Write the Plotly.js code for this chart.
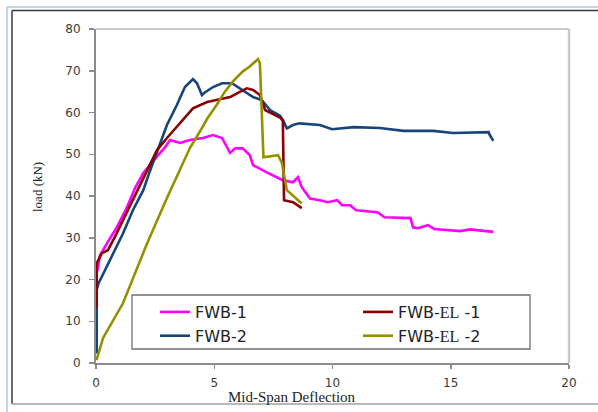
<!DOCTYPE html>
<html>
<head>
<meta charset="utf-8">
<script src="https://cdn.plot.ly/plotly-3.0.1.min.js"></script>
<style>
html,body{margin:0;padding:0;background:#fff;}
#chart{width:598px;height:412px;}
</style>
</head>
<body>
<div id="chart"></div>
<script>
// Series names
const seriesNames = ['FWB-1', 'FWB-EL -1', 'FWB-2', 'FWB-EL -2'];

// FWB-1 (magenta)
const fwb1X = [0.05, 0.17, 0.5, 0.89, 1.31, 1.65, 2.0, 2.28, 2.63, 2.92, 3.13, 3.55, 3.97, 4.52, 4.95, 5.33, 5.54, 5.67, 5.88, 6.2, 6.5, 6.64, 7.2, 7.9, 8.33, 8.54, 8.7, 9.05, 9.47, 9.8, 10.2, 10.4, 10.74, 11.0, 11.9, 12.2, 13.3, 13.4, 13.6, 14.04, 14.3, 15.4, 15.8, 16.8];
const fwb1Y = [22, 25.8, 29, 32.6, 37.3, 41.9, 45.5, 47.5, 49.8, 51.7, 53.4, 52.7, 53.4, 53.9, 54.6, 53.9, 51.7, 50.3, 51.4, 51.4, 49.8, 47.4, 45.7, 43.8, 43.3, 44.5, 42.1, 39.4, 39, 38.5, 39, 37.8, 37.8, 36.6, 36.1, 34.9, 34.7, 32.5, 32.3, 33, 32.1, 31.6, 32, 31.4];

// FWB-EL-1 (dark red)
const fwbEl1X = [0.03, 0.03, 0.25, 0.5, 0.8, 1.14, 1.56, 2.07, 2.58, 3.0, 3.55, 4.1, 4.7, 5.37, 5.67, 5.96, 6.38, 6.64, 6.93, 7.15, 7.5, 7.8, 7.9, 7.95, 8.33, 8.7];
const fwbEl1Y = [13.3, 23.9, 26.3, 27, 30.2, 34.2, 39, 45.4, 51, 53.9, 57.4, 61, 62.5, 63.4, 63.7, 64.6, 65.8, 65.4, 64.2, 60.6, 59.6, 58.7, 58, 39, 38.5, 37.1];

// FWB-2 (navy)
const fwb2X = [0.03, 0.03, 0.1, 0.38, 0.72, 1.14, 1.56, 2.0, 2.28, 2.58, 3.0, 3.42, 3.76, 4.1, 4.27, 4.48, 4.6, 4.95, 5.33, 5.75, 6.2, 6.64, 7.0, 7.2, 7.36, 7.78, 7.9, 8.07, 8.33, 8.6, 9.47, 9.98, 10.9, 12, 13, 14.25, 15.1, 16.6, 16.65, 16.8];
const fwb2Y = [2.3, 17.5, 19, 22.2, 26.3, 31, 36.6, 41.4, 46, 50.5, 57, 61.8, 66.1, 68, 67, 64.2, 64.8, 66.1, 67, 67, 65.4, 63.7, 63, 61.8, 60.6, 59.2, 58.2, 56.2, 57, 57.4, 57, 56, 56.5, 56.3, 55.6, 55.6, 55.1, 55.3, 54.6, 53.2];

// FWB-EL-2 (olive)
const fwbEl2X = [0.02, 0.3, 1.14, 2.15, 3.0, 3.47, 3.97, 4.4, 4.7, 5.1, 5.45, 5.8, 6.2, 6.5, 6.85, 6.93, 7.08, 7.7, 7.86, 8.07, 8.7];
const fwbEl2Y = [0.7, 6, 14.3, 28.5, 39.5, 45.5, 51.5, 55.5, 58.5, 61.8, 65, 67.5, 69.8, 71, 72.8, 71.8, 49.3, 49.8, 47.9, 41.4, 38.2];

// Axis ticks
const xTicks = [0, 5, 10, 15, 20];
const yTicks = [0, 10, 20, 30, 40, 50, 60, 70, 80];

const legendFont = {family: 'DejaVu Sans', size: 16, color: '#222'};
const elName = n => 'FWB-<span style="font-family:Liberation Serif">EL</span> -' + n;

const traces = [
  {x: fwb1X, y: fwb1Y, name: seriesNames[0], legend: 'legend', line: {color: '#ff00ff', width: 2.6}},
  {x: fwb2X, y: fwb2Y, name: seriesNames[2], legend: 'legend', line: {color: '#17457a', width: 2.6}},
  {x: fwbEl1X, y: fwbEl1Y, name: elName(1), legend: 'legend2', line: {color: '#8b0000', width: 2.6}},
  {x: fwbEl2X, y: fwbEl2Y, name: elName(2), legend: 'legend2', line: {color: '#959000', width: 2.6}}
].map(t => Object.assign({type: 'scatter', mode: 'lines'}, t));

// pixel -> paper helpers (plot area: left 96, top 29, width 473, height 334)
const PX = px => (px - 96) / 473;
const PY = py => (363 - py) / 334;

const layout = {
  width: 598, height: 412,
  margin: {l: 96, r: 29, t: 29, b: 49},
  paper_bgcolor: '#fff', plot_bgcolor: '#fff',
  showlegend: true,
  xaxis: {
    range: [0, 20], tickvals: xTicks, ticktext: xTicks.map(String),
    showgrid: false, zeroline: false, showline: true, linecolor: '#8c8c8c', linewidth: 2,
    ticks: 'outside', ticklen: 4, tickwidth: 1.5, tickcolor: '#8c8c8c',
    tickfont: {family: 'DejaVu Sans', size: 12, color: '#3a3a3a'}, ticklabelstandoff: 4
  },
  yaxis: {
    range: [0, 80], tickvals: yTicks, ticktext: yTicks.map(String),
    showgrid: false, zeroline: false, showline: true, linecolor: '#8c8c8c', linewidth: 2,
    ticks: 'outside', ticklen: 5, tickwidth: 1.5, tickcolor: '#8c8c8c',
    tickfont: {family: 'DejaVu Sans', size: 12, color: '#3a3a3a'}, ticklabelstandoff: 6
  },
  legend: {
    x: PX(155), y: PY(295), xanchor: 'left', yanchor: 'top',
    bgcolor: 'rgba(0,0,0,0)', borderwidth: 0, font: legendFont, orientation: 'v'
  },
  legend2: {
    x: PX(358), y: PY(295), xanchor: 'left', yanchor: 'top',
    bgcolor: 'rgba(0,0,0,0)', borderwidth: 0, font: legendFont, orientation: 'v'
  },
  shapes: [
    // outer light frame
    {type: 'line', xref: 'paper', yref: 'paper', x0: PX(7), x1: PX(600), y0: PY(7), y1: PY(7), line: {color: '#c5d3e6', width: 2}},
    {type: 'line', xref: 'paper', yref: 'paper', x0: PX(7), x1: PX(7), y0: PY(7), y1: PY(414), line: {color: '#c5d3e6', width: 2}},
    // outer dark frame
    {type: 'line', xref: 'paper', yref: 'paper', x0: PX(12), x1: PX(600), y0: PY(10.5), y1: PY(10.5), line: {color: '#3a3a3a', width: 1.5}},
    {type: 'line', xref: 'paper', yref: 'paper', x0: PX(12), x1: PX(12), y0: PY(10.5), y1: PY(404), line: {color: '#3a3a3a', width: 1.5}},
    {type: 'line', xref: 'paper', yref: 'paper', x0: PX(12), x1: PX(600), y0: PY(404), y1: PY(404), line: {color: '#a0a0a0', width: 1.5}},
    // plot box top and right
    {type: 'line', xref: 'paper', yref: 'paper', x0: 0, x1: 1, y0: 1, y1: 1, line: {color: '#c8c8c8', width: 2}},
    {type: 'line', xref: 'paper', yref: 'paper', x0: 1, x1: 1, y0: 0, y1: 1, line: {color: '#c8c8c8', width: 2.5}},
    // legend box
    {type: 'rect', xref: 'paper', yref: 'paper', x0: PX(132), x1: PX(530), y0: PY(349), y1: PY(295), line: {color: '#707070', width: 1.3}, fillcolor: 'rgba(255,255,255,0)'}
  ],
  annotations: [
    {text: 'load (kN)', xref: 'paper', yref: 'paper', x: PX(38), y: PY(187), xanchor: 'center', yanchor: 'middle', textangle: -90, showarrow: false,
     font: {family: 'Liberation Serif', size: 13, color: '#222'}},
    {text: 'Mid-Span Deflection', xref: 'paper', yref: 'paper', x: PX(292), y: PY(397), xanchor: 'center', yanchor: 'middle', showarrow: false,
     font: {family: 'Liberation Serif', size: 15, color: '#222'}}
  ]
};

Plotly.newPlot('chart', traces, layout, {displayModeBar: false, staticPlot: true});
</script>
</body>
</html>
